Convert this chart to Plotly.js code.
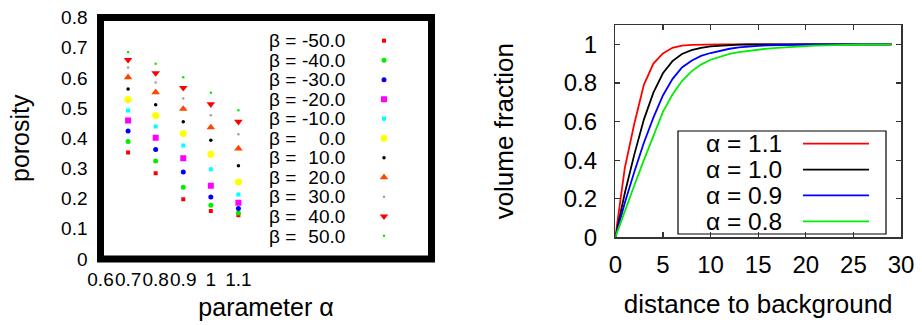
<!DOCTYPE html>
<html>
<head>
<meta charset="utf-8">
<script src="https://cdn.plot.ly/plotly-3.0.1.min.js"></script>
<style>html,body{margin:0;padding:0;background:#fff;}#chart{width:922px;height:325px;}</style>
</head>
<body>
<div id="chart"></div>
<script>
// ---------- Left panel data: porosity vs parameter alpha ----------
const alphaValues = [0.7, 0.8, 0.9, 1.0, 1.1];
const betaLabels = ['-50.0', '-40.0', '-30.0', '-20.0', '-10.0', '0.0', '10.0', '20.0', '30.0', '40.0', '50.0'];
const porosity_bm50 = [0.353, 0.284, 0.198, 0.159, 0.145];
const porosity_bm40 = [0.389, 0.325, 0.238, 0.178, 0.152];
const porosity_bm30 = [0.424, 0.363, 0.288, 0.205, 0.167];
const porosity_bm20 = [0.459, 0.402, 0.334, 0.243, 0.186];
const porosity_bm10 = [0.492, 0.439, 0.376, 0.297, 0.214];
const porosity_b0   = [0.528, 0.475, 0.416, 0.347, 0.255];
const porosity_b10  = [0.563, 0.511, 0.455, 0.393, 0.309];
const porosity_b20  = [0.602, 0.552, 0.497, 0.436, 0.366];
const porosity_b30  = [0.634, 0.585, 0.532, 0.476, 0.413];
const porosity_b40  = [0.660, 0.616, 0.567, 0.513, 0.455];
const porosity_b50  = [0.686, 0.647, 0.602, 0.551, 0.493];
const leftXTicks = [0.6, 0.7, 0.8, 0.9, 1, 1.1];
const leftXTickText = ['0.6', '0.7', '0.8', '0.9', '1', '1.1'];
const leftXRange = [0.6, 1.8];
const leftYRange = [0, 0.8];

// ---------- Right panel data: volume fraction vs distance ----------
const distance = [0,1,2,3,4,5,6,7,8,9,10,11,12,13,14,15,16,17,18,19,20,21,22,23,24,25,26,27,28,29];
const vf_a11 = [0,0.36,0.59,0.79,0.90,0.953,0.982,0.993,0.997,0.999,1,1,1,1,1,1,1,1,1,1,1,1,1,1,1,1,1,1,1,1];
const vf_a10 = [0,0.23,0.43,0.61,0.75,0.85,0.913,0.950,0.970,0.982,0.989,0.993,0.996,0.998,0.999,1,1,1,1,1,1,1,1,1,1,1,1,1,1,1];
const vf_a09 = [0,0.18,0.34,0.49,0.62,0.735,0.82,0.88,0.915,0.94,0.955,0.967,0.977,0.984,0.989,0.992,0.994,0.996,0.997,0.998,0.999,1,1,1,1,1,1,1,1,1];
const vf_a08 = [0,0.14,0.27,0.40,0.53,0.65,0.74,0.81,0.86,0.895,0.92,0.937,0.95,0.96,0.967,0.973,0.978,0.982,0.986,0.989,0.991,0.993,0.995,0.996,0.997,0.998,0.999,0.999,1,1];
const alphaLabels = ['1.1', '1.0', '0.9', '0.8'];

const FONT = 'Liberation Sans, Arial, Helvetica, sans-serif';
const W = 922, H = 325;

const porositySeries = [porosity_bm50, porosity_bm40, porosity_bm30, porosity_bm20, porosity_bm10,
  porosity_b0, porosity_b10, porosity_b20, porosity_b30, porosity_b40, porosity_b50];
const markerStyles = [
  {symbol:'square', size:4, color:'#ff0000'},
  {symbol:'circle', size:5, color:'#00ee00'},
  {symbol:'circle', size:5, color:'#0000ff'},
  {symbol:'square', size:6, color:'#ff00ff'},
  {symbol:'square', size:4, color:'#00ffff'},
  {symbol:'circle', size:7, color:'#ffff00'},
  {symbol:'circle', size:3.5, color:'#000000'},
  {symbol:'triangle-up', size:7.5, color:'#ff4500'},
  {symbol:'circle', size:2.5, color:'#a0a0a0'},
  {symbol:'triangle-down', size:7.5, color:'#ff0000'},
  {symbol:'circle', size:2.5, color:'#00ee00'}
];

const traces = [];
porositySeries.forEach((vals, i) => {
  traces.push({
    type:'scatter', mode:'markers', x: alphaValues, y: vals,
    xaxis:'x', yaxis:'y', name:'', legend:'legend',
    marker:{symbol:markerStyles[i].symbol, size:markerStyles[i].size, color:markerStyles[i].color, line:{width:0}}
  });
});
const curveSeries = [vf_a11, vf_a10, vf_a09, vf_a08];
const curveColors = ['#ff0000', '#000000', '#0000ff', '#00ee00'];
curveSeries.forEach((vals, i) => {
  traces.push({
    type:'scatter', mode:'lines', x: distance, y: vals,
    xaxis:'x2', yaxis:'y2', name:'', legend:'legend2',
    line:{color:curveColors[i], width:1.8}
  });
});

// legend texts: one multi-line block per column, line pitch from base font, glyphs from span size
function block(lines, px) {
  return lines.map(s => '<span style="font-size:' + px + 'px">' + s + '</span>').join('<br>');
}
const LEFT_PITCH = 19.56, RIGHT_PITCH = 26.1;
const annotations = [
  {xref:'paper', yref:'paper', x:298/W, y:1 - (40.7 + 5 * LEFT_PITCH) / H, xanchor:'right', yanchor:'middle', align:'left',
    text:block(betaLabels.map(() => 'β ='), 19), showarrow:false, font:{family:FONT, size:LEFT_PITCH / 1.3, color:'#000'}},
  {xref:'paper', yref:'paper', x:347/W, y:1 - (40.7 + 5 * LEFT_PITCH) / H, xanchor:'right', yanchor:'middle', align:'right',
    text:block(betaLabels, 19), showarrow:false, font:{family:FONT, size:LEFT_PITCH / 1.3, color:'#000'}},
  {xref:'paper', yref:'paper', x:704/W, y:1 - (143.3 + 1.5 * RIGHT_PITCH) / H, xanchor:'left', yanchor:'middle', align:'left',
    text:block(alphaLabels.map(a => 'α = ' + a), 24.5), showarrow:false, font:{family:FONT, size:RIGHT_PITCH / 1.3, color:'#000'}}
];

const layout = {
  width:W, height:H,
  margin:{l:0, r:0, t:0, b:0},
  paper_bgcolor:'#fff', plot_bgcolor:'rgba(0,0,0,0)',
  font:{family:FONT, color:'#000'},
  xaxis:{domain:[100.5/W, 431.5/W], range:leftXRange, tickvals:leftXTicks, ticktext:leftXTickText,
    showgrid:false, zeroline:false, showline:false, ticks:'', ticklabelstandoff:7, tickangle:0,
    tickfont:{family:FONT, size:19, color:'#000'},
    title:{text:'parameter α', font:{family:FONT, size:25, color:'#000'}, standoff:9}},
  yaxis:{domain:[(H-259)/H, (H-17.5)/H], range:leftYRange, dtick:0.1, tick0:0,
    showgrid:false, zeroline:false, showline:false, ticks:'', ticklabelstandoff:12,
    tickfont:{family:FONT, size:19, color:'#000'},
    title:{text:'porosity', font:{family:FONT, size:25, color:'#000'}, standoff:24}},
  xaxis2:{domain:[615.3/W, 901/W], anchor:'y2', range:[0,30], dtick:5, tick0:0,
    showgrid:false, zeroline:false, showline:true, linecolor:'#333', linewidth:1.5, mirror:'allticks',
    ticks:'inside', ticklen:5, tickcolor:'#333', tickwidth:1.2, ticklabelstandoff:5,
    tickfont:{family:FONT, size:24, color:'#000'},
    title:{text:'distance to background', font:{family:FONT, size:26, color:'#000'}, standoff:18}},
  yaxis2:{domain:[(H-237.4)/H, (H-25)/H], anchor:'x2', range:[0,1.1], dtick:0.2, tick0:0,
    showgrid:false, zeroline:false, showline:true, linecolor:'#333', linewidth:1.5, mirror:'allticks',
    ticks:'inside', ticklen:5, tickcolor:'#333', tickwidth:1.2, ticklabelstandoff:12,
    tickfont:{family:FONT, size:24, color:'#000'},
    title:{text:'volume fraction', font:{family:FONT, size:26, color:'#000'}, standoff:42}},
  showlegend:true,
  legend:{x:364/W, y:1 - 25.95/H, xanchor:'left', yanchor:'top', bgcolor:'rgba(0,0,0,0)',
    borderwidth:0, font:{family:FONT, size:12.7}, itemclick:false, itemdoubleclick:false},
  legend2:{x:798/W, y:1 - 125.75/H, xanchor:'left', yanchor:'top', bgcolor:'rgba(0,0,0,0)',
    borderwidth:0, itemwidth:66, font:{family:FONT, size:17.6}, itemclick:false, itemdoubleclick:false},
  shapes:[
    {type:'rect', xref:'paper', yref:'paper', x0:100.5/W, x1:431.5/W, y0:1-259/H, y1:1-17.5/H,
      line:{color:'#000', width:7}, layer:'above'},
    {type:'rect', xref:'paper', yref:'paper', x0:678/W, x1:886/W, y0:1-234/H, y1:1-131/H,
      line:{color:'#000', width:1.2}, layer:'below'}
  ],
  annotations:annotations
};

Plotly.newPlot('chart', traces, layout, {displayModeBar:false, staticPlot:true});
</script>
</body>
</html>
